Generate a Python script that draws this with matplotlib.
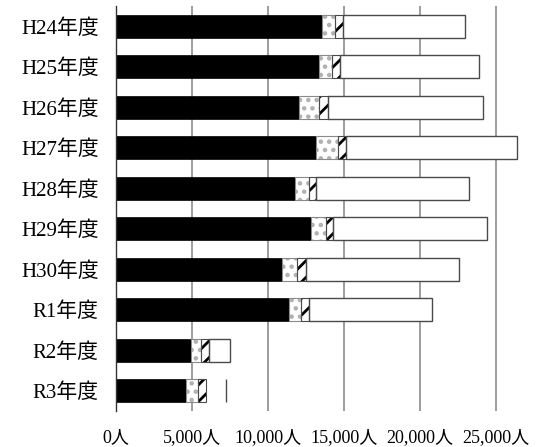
import matplotlib
matplotlib.use("Agg")
import matplotlib.pyplot as plt
import numpy as np

categories = ["H24年度", "H25年度", "H26年度", "H27年度", "H28年度",
              "H29年度", "H30年度", "R1年度", "R2年度", "R3年度"]
black_vals = [13570, 13350, 12040, 13160, 11780, 12830, 10950, 11400, 4930, 4600]
dotted_vals = [830, 840, 1310, 1460, 940, 960, 980, 750, 660, 830]
hatched_vals = [510, 540, 570, 500, 440, 500, 550, 550, 550, 510]
white_vals = [8040, 9140, 10210, 11270, 10060, 10070, 10080, 8050, 1370, 1290]
xticks = [0, 5000, 10000, 15000, 20000, 25000]
xtick_labels = ["0人", "5,000人", "10,000人", "15,000人", "20,000人", "25,000人"]

plt.rcParams['font.family'] = ['Liberation Serif', 'Noto Sans CJK JP']
plt.rcParams['hatch.linewidth'] = 2.0

W, H = 542, 447
fig = plt.figure(figsize=(W / 100, H / 100), dpi=100)
ax = fig.add_axes([115.5 / W, (H - 411) / H, (542 - 115.5) / W, 405 / H])

y = np.arange(len(categories))
bh = 0.57
b = np.array(black_vals)
d = np.array(dotted_vals)
h = np.array(hatched_vals)
w = np.array(white_vals)
outline = '#4a4a4a'

ax.barh(y, b, height=bh, color='black', edgecolor='black', linewidth=0.5, zorder=3)
ax.barh(y, d, left=b, height=bh, color='white', edgecolor='#b0b0b0', hatch='..',
        linewidth=0, zorder=3)
ax.barh(y, d, left=b, height=bh, fill=False, edgecolor='#8a8a8a', linewidth=0.8, zorder=4)
ax.barh(y, h, left=b + d, height=bh, color='white', edgecolor='black', hatch='//',
        linewidth=0, zorder=3)
ax.barh(y, h, left=b + d, height=bh, fill=False, edgecolor=outline, linewidth=0.8, zorder=4)
left_w = b + d + h
ax.barh(y, w, left=left_w, height=bh, color='white', linewidth=0, zorder=3)
# outlined white segments (all but the last)
ax.barh(y[:-1], w[:-1], left=left_w[:-1], height=bh, fill=False, edgecolor=outline,
        linewidth=1.0, zorder=4)
# last row: only the end line
ax.vlines((left_w + w)[-1:], y[-1:] - bh / 2, y[-1:] + bh / 2, color=outline,
          linewidth=1.0, zorder=4)

ax.set_xlim(0, 28000)
ax.set_ylim(len(categories) - 0.5, -0.5)
ax.set_xticks(xticks)
ax.set_xticklabels(xtick_labels, fontsize=13)
ax.set_yticks(y)
ax.set_yticklabels(categories, fontsize=15)
ax.tick_params(axis='x', length=0, pad=13)
ax.tick_params(axis='y', length=0, pad=12)
ax.xaxis.grid(True, color='#8c8c8c', linewidth=1.2, zorder=0)
ax.set_axisbelow(True)
for s in ['top', 'right', 'bottom']:
    ax.spines[s].set_visible(False)
ax.spines['left'].set_color('#333333')
ax.spines['left'].set_linewidth(1.0)
ax.spines['left'].set_zorder(5)

fig.savefig("out.png", dpi=100)
